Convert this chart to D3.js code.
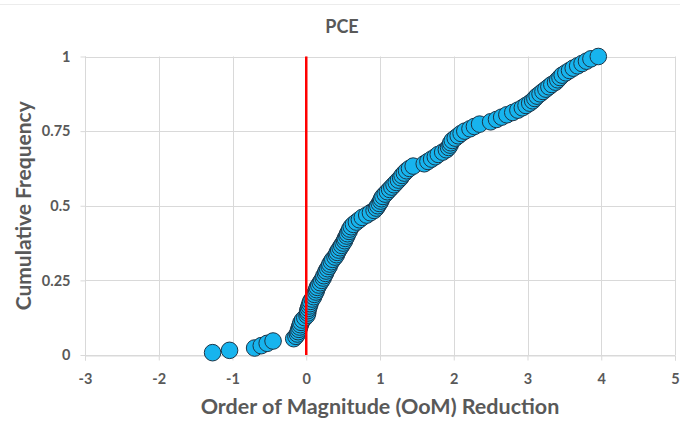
<!DOCTYPE html>
<html>
<head>
<meta charset="utf-8">
<script src="https://cdn.jsdelivr.net/npm/d3@7/dist/d3.min.js"></script>
<style>
  html, body { margin: 0; padding: 0; background: #fff; }
  svg { display: block; font-family: Lato, "Open Sans", sans-serif; }
</style>
</head>
<body>
<svg id="chart" width="680" height="423"></svg>
<script>
// Order-of-magnitude reduction for each PCE case, sorted ascending
const oomValues = [
  -1.27, -1.04, -0.70, -0.61, -0.53, -0.45, -0.17, -0.14, -0.12, -0.11,
  -0.10, -0.09, -0.08, -0.07, -0.05, -0.02, 0.01, 0.02, 0.02, 0.03,
  0.04, 0.05, 0.06, 0.08, 0.10, 0.11, 0.13, 0.14, 0.15, 0.17,
  0.19, 0.21, 0.23, 0.24, 0.26, 0.27, 0.29, 0.31, 0.32, 0.34,
  0.36, 0.39, 0.41, 0.42, 0.44, 0.46, 0.48, 0.50, 0.52, 0.53,
  0.55, 0.56, 0.58, 0.59, 0.61, 0.64, 0.68, 0.72, 0.76, 0.82,
  0.87, 0.92, 0.95, 0.97, 0.99, 1.01, 1.02, 1.04, 1.07, 1.10,
  1.13, 1.16, 1.19, 1.22, 1.25, 1.28, 1.30, 1.33, 1.36, 1.40,
  1.45, 1.60, 1.65, 1.70, 1.75, 1.79, 1.85, 1.90, 1.93, 1.95,
  1.96, 1.98, 2.02, 2.06, 2.10, 2.15, 2.22, 2.28, 2.35, 2.50,
  2.58, 2.65, 2.72, 2.80, 2.87, 2.93, 2.98, 3.03, 3.07, 3.10,
  3.13, 3.17, 3.21, 3.25, 3.29, 3.33, 3.38, 3.41, 3.44, 3.47,
  3.52, 3.57, 3.62, 3.68, 3.74, 3.80, 3.86, 3.96
];
const xTicks = [-3, -2, -1, 0, 1, 2, 3, 4, 5];
const xTickLabels = ["-3", "-2", "-1", "0", "1", "2", "3", "4", "5"];
const yTicks = [0, 0.25, 0.5, 0.75, 1];
const yTickLabels = ["0", "0.25", "0.5", "0.75", "1"];
const chartTitle = "PCE";
const xTitle = "Order of Magnitude (OoM) Reduction";
const yTitle = "Cumulative Frequency";
const referenceX = 0;

// Empirical cumulative frequency: rank / count
const points = oomValues.map((v, i) => ({ x: v, y: (i + 1) / oomValues.length }));

const svg = d3.select("#chart");
const W = 680;
const plot = { left: 85, right: 675, top: 56.5, bottom: 355 };
const textColor = "#595959";

const x = d3.scaleLinear().domain([-3, 5]).range([plot.left, plot.right]);
const y = d3.scaleLinear().domain([0, 1]).range([plot.bottom, plot.top]);

// faint frame line along the top
svg.append("line")
  .attr("x1", 0).attr("x2", W).attr("y1", 4.5).attr("y2", 4.5)
  .attr("stroke", "#ececec").attr("stroke-width", 1);

// gridlines
const grid = svg.append("g");
grid.selectAll("line.h").data(yTicks).join("line")
  .attr("x1", plot.left).attr("x2", plot.right)
  .attr("y1", d => Math.round(y(d)) + 0.5).attr("y2", d => Math.round(y(d)) + 0.5)
  .attr("stroke", "#d9d9d9").attr("stroke-width", 1);
grid.selectAll("line.v").data(xTicks).join("line")
  .attr("y1", plot.top).attr("y2", plot.bottom)
  .attr("x1", d => Math.round(x(d)) + 0.5).attr("x2", d => Math.round(x(d)) + 0.5)
  .attr("stroke", "#d9d9d9").attr("stroke-width", 1);

// axes
const xAxis = d3.axisBottom(x).tickValues(xTicks).tickSize(5).tickPadding(13)
  .tickFormat((d, i) => xTickLabels[i]);
const yAxis = d3.axisLeft(y).tickValues(yTicks).tickSize(5).tickPadding(10)
  .tickFormat((d, i) => yTickLabels[i]);

const gx = svg.append("g")
  .attr("transform", `translate(0,${Math.round(y(0)) + 0.5})`)
  .call(xAxis);
const gy = svg.append("g")
  .attr("transform", `translate(${Math.round(x(-3)) + 0.5},0)`)
  .call(yAxis);

[gx, gy].forEach(g => {
  g.select(".domain").attr("stroke", "#d9d9d9");
  g.selectAll(".tick line").attr("stroke", "#d9d9d9");
  g.selectAll(".tick text")
    .attr("fill", textColor)
    .style("font-family", "Lato, 'Open Sans', sans-serif")
    .style("font-size", "14.5px")
    .style("font-weight", "bold");
});
gy.select(".domain").attr("d", `M0,${plot.top}V${plot.bottom}`);

// data points
svg.append("g").selectAll("circle").data(points).join("circle")
  .attr("cx", d => x(d.x))
  .attr("cy", d => y(d.y))
  .attr("r", 8.3)
  .attr("fill", "#17b4ee")
  .attr("stroke", "#1c3447")
  .attr("stroke-width", 1);

// reference line at zero reduction
svg.append("line")
  .attr("x1", x(referenceX)).attr("x2", x(referenceX))
  .attr("y1", plot.top).attr("y2", plot.bottom)
  .attr("stroke", "#ff0000").attr("stroke-width", 2.5);

// titles
svg.append("text")
  .attr("x", 342).attr("y", 33)
  .attr("text-anchor", "middle")
  .attr("fill", textColor)
  .style("font-size", "18px").style("font-weight", "bold")
  .text(chartTitle);

svg.append("text")
  .attr("x", 380).attr("y", 414)
  .attr("text-anchor", "middle")
  .attr("fill", textColor)
  .style("font-size", "21.5px").style("font-weight", "bold")
  .text(xTitle);

svg.append("text")
  .attr("transform", `translate(31,${(plot.top + plot.bottom) / 2}) rotate(-90)`)
  .attr("text-anchor", "middle")
  .attr("fill", textColor)
  .style("font-size", "21px").style("font-weight", "bold")
  .text(yTitle);
</script>
</body>
</html>
